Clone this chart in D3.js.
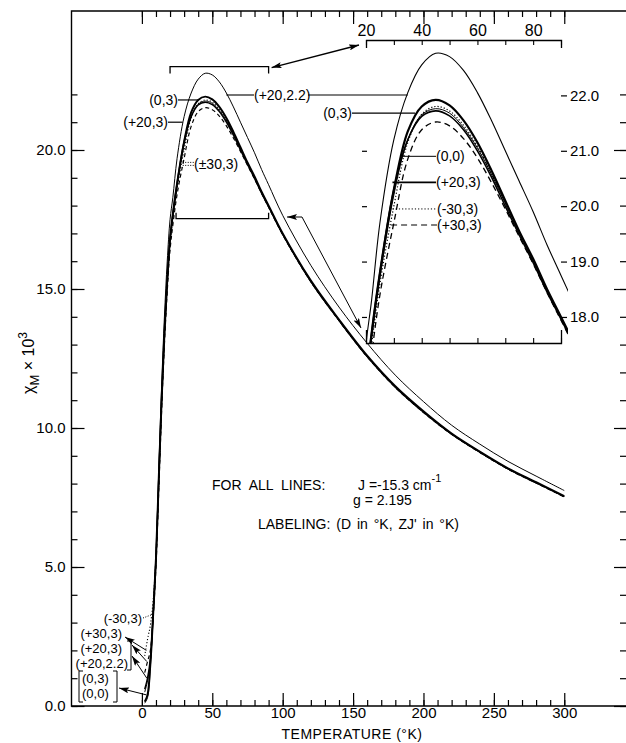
<!DOCTYPE html>
<html><head><meta charset="utf-8">
<script src="https://cdn.jsdelivr.net/npm/d3@7"></script>
<style>
body{margin:0;background:#fff}
svg text{font-family:"Liberation Sans",Arial,sans-serif;fill:#000}
</style>
</head><body>
<svg id="c" width="626" height="743"></svg>
<script>
// ---------------- data ----------------
const temps = [2,4,6,8,10,12,14,16,18,20,22,25,30,35,40,45,50,55,60,65,70,75,80,85,90,100,120,140,160,180,200,220,240,260,280,300];
const chi_0_3   = [0.15,0.4,1.5,3.3,5.3,8.2,11.0,13.4,15.3,16.8,17.7,18.8,20.3,21.35,21.8,21.92,21.82,21.55,21.15,20.65,20.1,19.55,19.05,18.5,18.0,17.0,15.3,13.9,12.6,11.5,10.6,9.8,9.15,8.55,8.05,7.55];
const chi_p20_22 = [0.5,0.9,1.6,3.3,5.4,8.5,11.5,14.0,16.0,17.5,18.3,19.7,21.2,22.05,22.55,22.76,22.7,22.45,22.05,21.55,21.0,20.45,19.9,19.3,18.75,17.65,15.85,14.35,13.05,11.9,10.95,10.1,9.42,8.8,8.27,7.75];
const chi_0_0   = [0.1,0.3,1.4,3.2,5.2,8.1,10.9,13.3,15.2,16.7,17.6,18.7,20.2,21.2,21.65,21.76,21.68,21.42,21.05,20.58,20.05,19.52,19.02,18.48,17.98,16.98,15.28,13.88,12.58,11.48,10.58,9.79,9.14,8.54,8.04,7.54];
const chi_p20_3 = [0.6,1.0,1.7,3.3,5.3,8.2,11.0,13.4,15.3,16.8,17.7,18.8,20.3,21.2,21.62,21.72,21.63,21.38,21.0,20.53,20.0,19.48,18.98,18.45,17.96,16.97,15.27,13.87,12.57,11.47,10.57,9.78,9.13,8.53,8.03,7.53];
const chi_m30_3 = [1.8,2.4,2.9,3.8,5.4,8.0,10.8,13.2,15.1,16.6,17.5,18.6,20.0,21.15,21.66,21.8,21.72,21.46,21.08,20.6,20.06,19.52,19.02,18.48,17.97,16.97,15.27,13.87,12.57,11.47,10.57,9.78,9.13,8.53,8.03,7.53];
const chi_p30_3 = [1.2,1.6,2.0,3.2,5.0,7.8,10.6,13.0,14.9,16.4,17.3,18.4,19.7,20.85,21.38,21.52,21.45,21.22,20.87,20.43,19.95,19.45,18.96,18.44,17.94,16.95,15.26,13.86,12.56,11.46,10.56,9.77,9.12,8.52,8.02,7.52];

const xTicksMain = [0,50,100,150,200,250,300];
const yTicksMain = [0,5,10,15,20];
const yTickLabels = ["0.0","5.0","10.0","15.0","20.0"];
const insetXDomain = [20,90];
const insetYDomain = [17.53,23.0];
const insetXLabels = [20,40,60,80];
const insetYTicks = [18,19,20,21,22];
const insetYLabels = ["18.0","19.0","20.0","21.0","22.0"];

// ---------------- setup ----------------
const svg = d3.select("#c");
const FONT = '"Liberation Sans",Arial,sans-serif';
const x = d3.scaleLinear().domain([-50,343]).range([71.5,624.8]);
const y = d3.scaleLinear().domain([0,25]).range([706,11]);
const xi = d3.scaleLinear().domain(insetXDomain).range([366,561]);
const yi = d3.scaleLinear().domain(insetYDomain).range([343,40]);

const defs = svg.append("defs");
defs.append("marker").attr("id","ah").attr("viewBox","0 0 10 6")
  .attr("refX",10).attr("refY",3).attr("markerWidth",10).attr("markerHeight",6)
  .attr("markerUnits","userSpaceOnUse").attr("orient","auto-start-reverse")
  .append("path").attr("d","M0,0L10,3L0,6L2,3z").attr("fill","#000");
defs.append("clipPath").attr("id","mainClip").append("rect")
  .attr("x",72).attr("y",11).attr("width",554).attr("height",695);
defs.append("clipPath").attr("id","insetClip").append("rect")
  .attr("x",366).attr("y",40).attr("width",202).attr("height",303);

function clean(g, fs){
  g.select(".domain").remove();
  g.selectAll("line").attr("stroke","#000").attr("stroke-width",1.2);
  g.selectAll("text").attr("font-family",FONT).attr("font-size",fs||15).attr("fill","#000");
}

// ---------------- frame ----------------
svg.append("path").attr("d",`M626,${y(25)}H71.5V706H626`).attr("fill","none").attr("stroke","#000").attr("stroke-width",1.4);

// left axis
svg.append("g").attr("transform","translate(71.5,0)")
  .call(d3.axisLeft(y).tickValues(d3.range(0,23)).tickSize(-6).tickFormat("")).call(g=>clean(g));
svg.append("g").attr("transform","translate(71.5,0)")
  .call(d3.axisLeft(y).tickValues(yTicksMain).tickFormat((d,i)=>yTickLabels[i]).tickSizeInner(-13).tickSizeOuter(0).tickPadding(6))
  .call(g=>clean(g,15));
// right mirrored ticks
svg.append("g").attr("transform","translate(626,0)")
  .call(d3.axisRight(y).tickValues(d3.range(0,23)).tickSize(-6).tickFormat("")).call(g=>clean(g));
svg.append("g").attr("transform","translate(626,0)")
  .call(d3.axisRight(y).tickValues(yTicksMain).tickSize(-12).tickFormat("")).call(g=>clean(g));
// bottom axis
svg.append("g").attr("transform","translate(0,706)")
  .call(d3.axisBottom(x).tickValues(d3.range(0,301,10)).tickSize(-6).tickFormat("")).call(g=>clean(g));
svg.append("g").attr("transform","translate(0,706)")
  .call(d3.axisBottom(x).tickValues(xTicksMain).tickSizeInner(-13).tickSizeOuter(0).tickPadding(1))
  .call(g=>clean(g,15));
// top mirrored ticks
svg.append("g").attr("transform",`translate(0,${y(25)})`)
  .call(d3.axisTop(x).tickValues(d3.range(0,301,10)).tickSize(-6).tickFormat("")).call(g=>clean(g));
svg.append("g").attr("transform",`translate(0,${y(25)})`)
  .call(d3.axisTop(x).tickValues(xTicksMain).tickSize(-13).tickFormat("")).call(g=>clean(g));

// axis titles
svg.append("text").attr("x",352).attr("y",739).attr("text-anchor","middle")
  .attr("font-size",14).attr("letter-spacing",0.5).text("TEMPERATURE (°K)");
const yl = svg.append("text").attr("transform","translate(34,363) rotate(-90)")
  .attr("text-anchor","middle").attr("font-size",16);
yl.append("tspan").text("χ");
yl.append("tspan").attr("dy",5).attr("font-size",13).text("M");
yl.append("tspan").attr("dy",-5).text(" × 10");
yl.append("tspan").attr("dy",-7).attr("font-size",12).text("3");

// ---------------- series ----------------
const series = [
  {name:"(+20,2.2)", v:chi_p20_22, w:1.1, dash:null},
  {name:"(0,0)",     v:chi_0_0,    w:1.0, dash:null},
  {name:"(-30,3)",   v:chi_m30_3,  w:1.2, dash:"1.2,2"},
  {name:"(+30,3)",   v:chi_p30_3,  w:1.3, dash:"6,4"},
  {name:"(+20,3)",   v:chi_p20_3,  w:1.6, dash:null},
  {name:"(0,3)",     v:chi_0_3,    w:2.2, dash:null}
];
function lineGen(xs, ys){
  return d3.line().x(d=>xs(d[0])).y(d=>ys(d[1])).curve(d3.curveCatmullRom.alpha(0.5));
}
const mainG = svg.append("g").attr("clip-path","url(#mainClip)");
series.forEach(s=>{
  const pts = temps.map((t,i)=>[t,s.v[i]]);
  mainG.append("path").attr("d",lineGen(x,y)(pts)).attr("fill","none")
    .attr("stroke","#000").attr("stroke-width",s.w*0.9)
    .attr("stroke-dasharray", s.dash ? (s.name==="(+30,3)" ? "4,3" : s.dash) : null);
});

// ---------------- inset ----------------
svg.append("rect").attr("x",366).attr("y",40).attr("width",195).attr("height",303).attr("fill","#fff");
const insG = svg.append("g").attr("clip-path","url(#insetClip)");
series.forEach(s=>{
  const pts = temps.map((t,i)=>[t,s.v[i]]).filter(d=>d[0]>=14 && d[0]<=100);
  insG.append("path").attr("d",lineGen(xi,yi)(pts)).attr("fill","none")
    .attr("stroke","#000").attr("stroke-width",s.w).attr("stroke-dasharray",s.dash);
});
// inset axes
svg.append("g").attr("transform","translate(0,40)")
  .call(d3.axisTop(xi).tickValues(d3.range(20,91,10)).tickSizeInner(-5).tickSizeOuter(-8).tickPadding(4)
    .tickFormat(d=>insetXLabels.includes(d)?d:""))
  .call(g=>{g.select(".domain").attr("stroke","#000").attr("stroke-width",1.3);
    g.selectAll("line").attr("stroke","#000").attr("stroke-width",1.1);
    g.selectAll("text").attr("font-family",FONT).attr("font-size",16).attr("fill","#000");});
svg.append("g").attr("transform","translate(0,343)")
  .call(d3.axisBottom(xi).tickValues(d3.range(20,91,10)).tickSizeInner(-5).tickSizeOuter(-13).tickFormat(""))
  .call(g=>{g.select(".domain").attr("stroke","#000").attr("stroke-width",1.3);
    g.selectAll("line").attr("stroke","#000").attr("stroke-width",1.1);});
svg.append("g").attr("transform","translate(561,0)")
  .call(d3.axisRight(yi).tickValues(insetYTicks).tickSizeInner(6).tickSizeOuter(0).tickPadding(3)
    .tickFormat((d,i)=>insetYLabels[i]))
  .call(g=>clean(g,15));
svg.append("g").attr("transform","translate(367,0)")
  .call(d3.axisLeft(yi).tickValues([18,19,20,21]).tickSize(5).tickFormat("")).call(g=>clean(g));

// ---------------- brackets and arrows ----------------
const bx0 = x(insetXDomain[0]), bx1 = x(insetXDomain[1]);
svg.append("path").attr("d",`M${bx0},${y(insetYDomain[1])+7}V${y(insetYDomain[1])}H${bx1}V${y(insetYDomain[1])+7}`)
  .attr("fill","none").attr("stroke","#000").attr("stroke-width",1.3);
svg.append("path").attr("d",`M${bx0+6},${y(insetYDomain[0])-6}V${y(insetYDomain[0])}H${bx1}V${y(insetYDomain[0])-6}`)
  .attr("fill","none").attr("stroke","#000").attr("stroke-width",1.3);
svg.append("path").attr("d",`M${bx1+3},${y(insetYDomain[1])+1}L359,45`)
  .attr("fill","none").attr("stroke","#000").attr("stroke-width",1.3)
  .attr("marker-start","url(#ah)").attr("marker-end","url(#ah)");
svg.append("path").attr("d","M287,217H302L361,328")
  .attr("fill","none").attr("stroke","#000").attr("stroke-width",1)
  .attr("marker-start","url(#ah)").attr("marker-end","url(#ah)");

// ---------------- labels ----------------
function label(txt, xpos, ypos, anchor, fs){
  return svg.append("text").attr("x",xpos).attr("y",ypos).attr("dy","0.35em")
    .attr("text-anchor",anchor||"start").attr("font-size",fs||14).text(txt);
}
function seg(x0,y0,x1,y1,w,dash){
  return svg.append("line").attr("x1",x0).attr("y1",y0).attr("x2",x1).attr("y2",y1)
    .attr("stroke","#000").attr("stroke-width",w||1).attr("stroke-dasharray",dash||null);
}
// main chart labels
label("(0,3)",178,y(21.8),"end");        seg(178,y(21.8),x(40.5),y(21.8),1.2);
label("(+20,3)",168,y(21.0),"end");      seg(168,y(21.0),x(29),y(21.0),1.2);
label("(±30,3)",194,y(19.5),"start");    seg(x(29),y(19.5)-1.5,194,y(19.5)-1.5,1,"1,1.5"); seg(x(29),y(19.5)+1.5,194,y(19.5)+1.5,1,"1,1.5");
label("(+20,2.2)",254,95,"start");        seg(x(60),95,254,95,1.1); seg(308,95,xi(35),95,1.1);
label("(0,3)",352,yi(21.68),"end");       seg(352,yi(21.68),xi(37.6),yi(21.68),1.2);
// inset labels
label("(0,0)",436,yi(20.9),"start");      seg(xi(33),yi(20.9),436,yi(20.9),1);
label("(+20,3)",436,yi(20.43),"start");   seg(xi(29.5),yi(20.43),436,yi(20.43),1.6);
label("(-30,3)",437,yi(19.95),"start");   seg(xi(29.5),yi(19.95),437,yi(19.95),1,"1.2,2");
label("(+30,3)",437,yi(19.66),"start");   seg(xi(29),yi(19.66),437,yi(19.66),1.2,"6,4");

// bottom-left labels
label("(-30,3)",142,618,"end",13);        seg(143,618,x(7.8),y(3.3),1,"1,1.5");
label("(+30,3)",122,633,"end",13);
label("(+20,3)",122,648,"end",13);
label("(+20,2.2)",128,663,"end",13);
label("(0,3)",82,678,"start",13);
label("(0,0)",82,693,"start",13);
svg.append("path").attr("d","M83,671H79V702H83M113,671H117V702H113M127,641H131V670H127")
  .attr("fill","none").attr("stroke","#000").attr("stroke-width",1);
svg.append("path").attr("d",`M${x(3.2)},${y(2.0)}L125,637`).attr("stroke","#000").attr("fill","none").attr("stroke-width",1).attr("marker-end","url(#ah)");
svg.append("path").attr("d",`M${x(3.5)},${y(1.6)}L132,645`).attr("stroke","#000").attr("fill","none").attr("stroke-width",1).attr("marker-end","url(#ah)");
svg.append("path").attr("d",`M${x(3.5)},${y(1.0)}L132,656`).attr("stroke","#000").attr("fill","none").attr("stroke-width",1).attr("marker-end","url(#ah)");
svg.append("path").attr("d",`M${x(3.2)},${y(0.4)}L119,688`).attr("stroke","#000").attr("fill","none").attr("stroke-width",1).attr("marker-end","url(#ah)");

// annotation block
svg.append("text").attr("x",212).attr("y",490).attr("font-size",14).attr("word-spacing",4).text("FOR ALL LINES:");
const jt = svg.append("text").attr("x",358).attr("y",490).attr("font-size",14);
jt.append("tspan").text("J =-15.3 cm");
jt.append("tspan").attr("dy",-8).attr("font-size",11).text("-1");
svg.append("text").attr("x",353).attr("y",505).attr("font-size",14).text("g = 2.195");
svg.append("text").attr("x",258).attr("y",529).attr("font-size",14).attr("word-spacing",2).text("LABELING: (D in °K, ZJ' in °K)");
</script>
</body></html>
